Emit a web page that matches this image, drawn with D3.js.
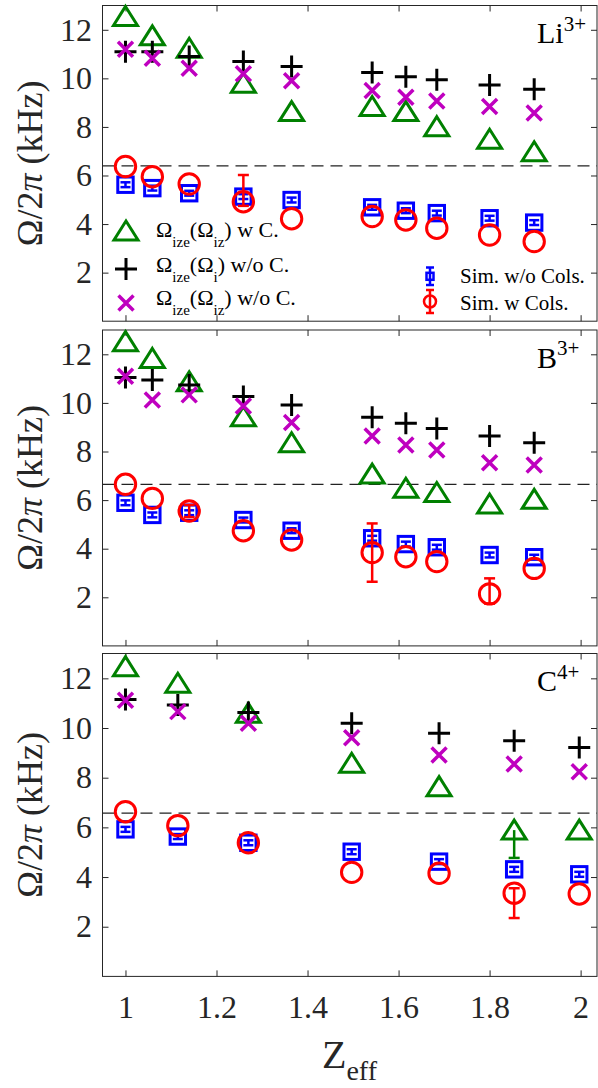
<!DOCTYPE html>
<html><head><meta charset="utf-8">
<script src="https://cdn.jsdelivr.net/npm/d3@7"></script>
<style>
body{margin:0;background:#fff}
svg{display:block}
text{font-family:"Liberation Serif","Times New Roman",serif;fill:#262626}
</style>
</head><body>
<svg id="c" width="598" height="1088"></svg>
<script>
// ---------- data ----------
const xTicks = [1, 1.2, 1.4, 1.6, 1.8, 2];
const yTicks = [2, 4, 6, 8, 10, 12];

// Li3+
const zLi = [1.000, 1.059, 1.140, 1.259, 1.365, 1.542, 1.616, 1.684, 1.800, 1.898];
const triLi = [12.55, 11.75, 11.24, 9.80, 8.63, 8.84, 8.63, 8.01, 7.49, 6.98];
const plusLi = [11.10, 11.10, 10.90, 10.69, 10.49, 10.24, 10.07, 9.94, 9.73, 9.55];
const xLi = [11.20, 10.83, 10.42, 10.19, 9.90, 9.50, 9.22, 9.07, 8.84, 8.57];
const sqLi = [5.62, 5.48, 5.27, 5.13, 4.99, 4.69, 4.55, 4.45, 4.24, 4.06];
const sqLiErr = [0.1, 0.1, 0.1, 0.1, 0.1, 0.1, 0.1, 0.1, 0.1, 0.1];
const cirLi = [6.37, 5.95, 5.65, 4.92, 4.22, 4.31, 4.17, 3.83, 3.55, 3.28];
const cirLiErrUp = [0, 0, 0, 1.10, 0, 0, 0, 0, 0, 0];
const cirLiErrDn = [0, 0, 0, 0.17, 0, 0, 0, 0, 0, 0];
const triLiErrDn = [0, 0, 0, 0, 0, 0, 0, 0, 0, 0];
const refLi = 6.40;

// B3+
const zB = [1.000, 1.059, 1.140, 1.259, 1.365, 1.542, 1.616, 1.684, 1.800, 1.898];
const triB = [12.52, 11.83, 10.87, 9.43, 8.36, 7.07, 6.49, 6.31, 5.84, 6.03];
const plusB = [11.05, 10.94, 10.74, 10.26, 9.91, 9.41, 9.16, 8.95, 8.64, 8.36];
const xB = [11.10, 10.12, 10.33, 9.87, 9.19, 8.64, 8.27, 8.06, 7.54, 7.44];
const sqB = [5.89, 5.39, 5.48, 5.18, 4.74, 4.43, 4.19, 4.06, 3.74, 3.65];
const sqBErr = [0.1, 0.1, 0.1, 0.1, 0.1, 0.1, 0.1, 0.1, 0.1, 0.1];
const cirB = [6.65, 6.07, 5.55, 4.74, 4.36, 3.84, 3.67, 3.47, 2.14, 3.19];
const cirBErrUp = [0, 0, 0.25, 0, 0, 1.20, 0, 0, 0.64, 0];
const cirBErrDn = [0, 0, 0.25, 0, 0, 1.20, 0, 0, 0.40, 0];
const triBErrDn = [0, 0, 0, 0, 0, 0, 0, 0, 0, 0];
const refB = 6.65;

// C4+
const zC = [1.000, 1.115, 1.270, 1.497, 1.689, 1.854, 1.997];
const triC = [12.47, 11.80, 10.59, 8.58, 7.64, 5.89, 5.89];
const plusC = [11.15, 10.93, 10.62, 10.19, 9.79, 9.49, 9.22];
const xC = [11.12, 10.66, 10.19, 9.61, 8.91, 8.55, 8.24];
const sqC = [5.92, 5.63, 5.38, 5.02, 4.62, 4.31, 4.11];
const sqCErr = [0.1, 0.1, 0.1, 0.1, 0.1, 0.1, 0.1];
const cirC = [6.63, 6.07, 5.38, 4.19, 4.15, 3.35, 3.32];
const cirCErrUp = [0, 0, 0, 0, 0, 0.20, 0];
const cirCErrDn = [0, 0, 0, 0, 0, 1.00, 0];
const triCErrDn = [0, 0, 0, 0, 0, 1.12, 0];
const refC = 6.57;

// ---------- styling / layout ----------
const GREEN = "#008000", MAG = "#bf00bf", BLUE = "#0000ff", RED = "#ff0000", AX = "#262626";
const SERIF = "'Liberation Serif','Times New Roman',serif";
const panels = [
  {name: "Li", sup: "3+", z: zLi, tri: triLi, plus: plusLi, x: xLi, sq: sqLi, sqErr: sqLiErr,
   cir: cirLi, cUp: cirLiErrUp, cDn: cirLiErrDn, tDn: triLiErrDn, ref: refLi, top: 5.5, bottom: 321.2, legend: true},
  {name: "B", sup: "3+", z: zB, tri: triB, plus: plusB, x: xB, sq: sqB, sqErr: sqBErr,
   cir: cirB, cUp: cirBErrUp, cDn: cirBErrDn, tDn: triBErrDn, ref: refB, top: 330, bottom: 645.9},
  {name: "C", sup: "4+", z: zC, tri: triC, plus: plusC, x: xC, sq: sqC, sqErr: sqCErr,
   cir: cirC, cUp: cirCErrUp, cDn: cirCErrDn, tDn: triCErrDn, ref: refC, top: 653.5, bottom: 976.4, xlabels: true}
];

const svg = d3.select("#c");
const L = 102.5, R = 597;
const x = d3.scaleLinear().domain([0.9495, 2.036]).range([L, R]);

const triPath = "M0,-10 L12,9 L-12,9 Z";
const plusPath = "M-11,0H11M0,-11V11";
const xPath = "M-7.5,-7.5L7.5,7.5M-7.5,7.5L7.5,-7.5";

function errbar(g, cx, y, v, up, dn, color, capW) {
  if (up <= 0 && dn <= 0) return;
  g.append("line").attr("x1", cx).attr("x2", cx).attr("y1", y(v + up)).attr("y2", y(v - dn))
    .attr("stroke", color).attr("stroke-width", 2.5);
  if (up > 0) g.append("line").attr("x1", cx - capW / 2).attr("x2", cx + capW / 2)
    .attr("y1", y(v + up)).attr("y2", y(v + up)).attr("stroke", color).attr("stroke-width", 2.5);
  if (dn > 0) g.append("line").attr("x1", cx - capW / 2).attr("x2", cx + capW / 2)
    .attr("y1", y(v - dn)).attr("y2", y(v - dn)).attr("stroke", color).attr("stroke-width", 2.5);
}

panels.forEach(p => {
  const y = d3.scaleLinear().domain([0, 13]).range([p.bottom, p.top]);
  const g = svg.append("g");

  // axes (inward ticks)
  const left = g.append("g").attr("transform", `translate(${L},0)`)
    .call(d3.axisLeft(y).tickValues(yTicks).tickSize(-6).tickSizeOuter(0).tickPadding(10.5));
  const right = g.append("g").attr("transform", `translate(${R},0)`)
    .call(d3.axisRight(y).tickValues(yTicks).tickSize(-6).tickSizeOuter(0).tickFormat(""));
  const topAx = g.append("g").attr("transform", `translate(0,${p.top})`)
    .call(d3.axisTop(x).tickValues(xTicks).tickSize(-6).tickSizeOuter(0).tickFormat(""));
  const bot = g.append("g").attr("transform", `translate(0,${p.bottom})`)
    .call(d3.axisBottom(x).tickValues(xTicks).tickSize(-6).tickSizeOuter(0).tickPadding(19)
      .tickFormat(p.xlabels ? d3.format("") : ""));
  [left, right, topAx, bot].forEach(a => {
    a.attr("font-family", SERIF);
    a.select(".domain").remove();
    a.selectAll(".tick line").attr("stroke", AX).attr("stroke-width", 1);
    a.selectAll(".tick text").attr("font-size", 32).attr("fill", AX);
  });
  g.append("rect").attr("x", L).attr("y", p.top).attr("width", R - L).attr("height", p.bottom - p.top)
    .attr("fill", "none").attr("stroke", AX).attr("stroke-width", 1);

  // dashed reference
  g.append("line").attr("x1", L).attr("x2", R).attr("y1", y(p.ref)).attr("y2", y(p.ref))
    .attr("stroke", "#222").attr("stroke-width", 1.2).attr("stroke-dasharray", "12,7");

  // triangles
  p.z.forEach((zz, i) => errbar(g, x(zz), y, p.tri[i], 0, p.tDn[i], GREEN, 11));
  g.selectAll(null).data(p.z).enter().append("path").attr("d", triPath)
    .attr("transform", (d, i) => `translate(${x(d)},${y(p.tri[i])})`)
    .attr("fill", "none").attr("stroke", GREEN).attr("stroke-width", 3);
  // plus
  g.selectAll(null).data(p.z).enter().append("path").attr("d", plusPath)
    .attr("transform", (d, i) => `translate(${x(d)},${y(p.plus[i])})`)
    .attr("fill", "none").attr("stroke", "#000").attr("stroke-width", 3);
  // x
  g.selectAll(null).data(p.z).enter().append("path").attr("d", xPath)
    .attr("transform", (d, i) => `translate(${x(d)},${y(p.x[i])})`)
    .attr("fill", "none").attr("stroke", MAG).attr("stroke-width", 3.5);
  // squares with errorbars
  p.z.forEach((zz, i) => errbar(g, x(zz), y, p.sq[i], p.sqErr[i], p.sqErr[i], BLUE, 10));
  g.selectAll(null).data(p.z).enter().append("rect")
    .attr("x", (d) => x(d) - 7.7).attr("y", (d, i) => y(p.sq[i]) - 7.7)
    .attr("width", 15.4).attr("height", 15.4)
    .attr("fill", "none").attr("stroke", BLUE).attr("stroke-width", 3);
  // circles with errorbars
  p.z.forEach((zz, i) => errbar(g, x(zz), y, p.cir[i], p.cUp[i], p.cDn[i], RED, 11));
  g.selectAll(null).data(p.z).enter().append("circle")
    .attr("cx", d => x(d)).attr("cy", (d, i) => y(p.cir[i])).attr("r", 10.2)
    .attr("fill", "none").attr("stroke", RED).attr("stroke-width", 3);

  // ion label
  const lab = g.append("text").attr("x", 537).attr("y", p.top + 37.5).attr("font-size", 30)
    .attr("font-family", SERIF).style("fill", "#000");
  lab.append("tspan").text(p.name);
  lab.append("tspan").attr("font-size", 21).attr("dy", -12.5).text(p.sup);

  // y label
  const yl = g.append("text").attr("transform", `translate(42,${(p.top + p.bottom) / 2}) rotate(-90)`)
    .attr("text-anchor", "middle").attr("font-size", 36).attr("font-family", SERIF).style("fill", AX);
  yl.append("tspan").text("Ω/2");
  yl.append("tspan").attr("font-style", "italic").text("π");
  yl.append("tspan").text(" (kHz)");

  if (p.legend) {
    const lg = g.append("g");
    const sy = [231, 269, 303];
    lg.append("path").attr("d", triPath).attr("transform", `translate(126,${sy[0]})`)
      .attr("fill", "none").attr("stroke", GREEN).attr("stroke-width", 3);
    lg.append("path").attr("d", plusPath).attr("transform", `translate(126,${sy[1]})`)
      .attr("fill", "none").attr("stroke", "#000").attr("stroke-width", 3);
    lg.append("path").attr("d", xPath).attr("transform", `translate(126,${sy[2]})`)
      .attr("fill", "none").attr("stroke", MAG).attr("stroke-width", 3.5);
    const entries = [["iz", " w C."], ["i", " w/o C."], ["iz", " w/o C."]];
    const bl = [236.7, 271.7, 305];
    entries.forEach((e, k) => {
      const t = lg.append("text").attr("x", 156).attr("y", bl[k]).attr("font-size", 22)
        .attr("font-family", SERIF).style("fill", "#000");
      t.append("tspan").text("Ω");
      t.append("tspan").attr("font-size", 15).attr("dy", 10).text("ize");
      t.append("tspan").attr("dy", -10).text("(Ω");
      t.append("tspan").attr("font-size", 15).attr("dy", 10).text(e[0]);
      t.append("tspan").attr("dy", -10).text(")" + e[1]);
    });
    // simulation legend
    lg.append("line").attr("x1", 430).attr("x2", 430).attr("y1", 267.5).attr("y2", 285).attr("stroke", BLUE).attr("stroke-width", 2.5);
    lg.append("line").attr("x1", 426).attr("x2", 434).attr("y1", 267.5).attr("y2", 267.5).attr("stroke", BLUE).attr("stroke-width", 2.5);
    lg.append("line").attr("x1", 426).attr("x2", 434).attr("y1", 285).attr("y2", 285).attr("stroke", BLUE).attr("stroke-width", 2.5);
    lg.append("rect").attr("x", 426.5).attr("y", 272.8).attr("width", 7).attr("height", 7).attr("fill", "none").attr("stroke", BLUE).attr("stroke-width", 2.5);
    lg.append("line").attr("x1", 430).attr("x2", 430).attr("y1", 290).attr("y2", 313).attr("stroke", RED).attr("stroke-width", 2.5);
    lg.append("line").attr("x1", 426).attr("x2", 434).attr("y1", 290).attr("y2", 290).attr("stroke", RED).attr("stroke-width", 2.5);
    lg.append("line").attr("x1", 426).attr("x2", 434).attr("y1", 313).attr("y2", 313).attr("stroke", RED).attr("stroke-width", 2.5);
    lg.append("circle").attr("cx", 430).attr("cy", 301.5).attr("r", 6).attr("fill", "none").attr("stroke", RED).attr("stroke-width", 2.5);
    lg.append("text").attr("x", 460).attr("y", 283.3).attr("font-size", 21).attr("font-family", SERIF).style("fill", "#000").text("Sim. w/o Cols.");
    lg.append("text").attr("x", 460).attr("y", 310).attr("font-size", 21).attr("font-family", SERIF).style("fill", "#000").text("Sim. w Cols.");
  }
});

// x label
const xl = svg.append("text").attr("x", 322).attr("y", 1068).attr("font-size", 40)
  .attr("font-family", SERIF).style("fill", AX);
xl.append("tspan").text("Z");
xl.append("tspan").attr("font-size", 28).attr("dy", 12).text("eff");
</script>
</body></html>
